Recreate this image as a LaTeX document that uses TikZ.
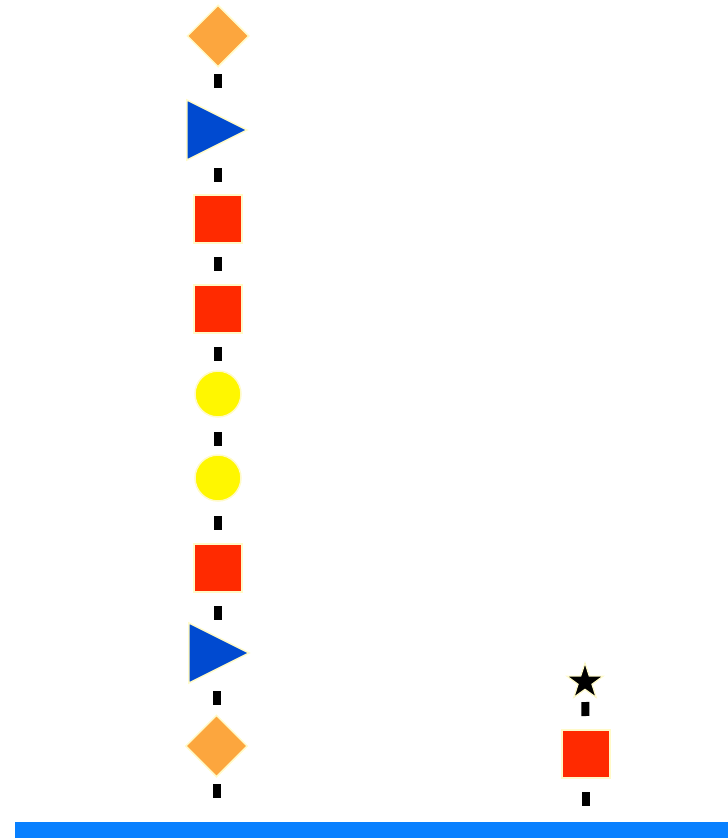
\documentclass[tikz,border=0pt]{standalone}
\usepackage{tikz}
\usetikzlibrary{shapes.geometric,backgrounds}
\definecolor{hexorange}{RGB}{252,166,62}
\definecolor{hexblue}{RGB}{0,74,208}
\definecolor{hexred}{RGB}{255,42,0}
\definecolor{hexyellow}{RGB}{255,247,0}
\definecolor{rimcream}{RGB}{255,250,200}
\definecolor{rootblue}{RGB}{8,128,255}
\tikzset{residue/.style={draw=rimcream,line width=1.5pt,inner sep=0pt},
 sqres/.style={residue,rectangle,fill=hexred,minimum size=48pt},
 dmres/.style={residue,diamond,fill=hexorange,minimum size=62pt},
 trres/.style={residue,isosceles triangle,isosceles triangle stretches,
  fill=hexblue,minimum width=60pt,minimum height=60pt},
 ccres/.style={residue,circle,fill=hexyellow,minimum size=46pt},
 stres/.style={residue,star,star points=5,star point ratio=2.6,fill=black,
  line width=1.2pt,minimum size=38pt},
 link/.style={line width=8pt,dash pattern=on 14pt off 200pt,dash phase=176pt}}

\begin{document}
\begin{tikzpicture}[x=1pt,y=-1pt]
\useasboundingbox (0,0) rectangle (728,838);
\node[fill=rootblue,minimum width=713pt,minimum height=16pt,inner sep=0pt]
 (root) at (371.5,830) {};
% left branch
\node[dmres] (dmA) at (218,36) {};
\node[trres] (trA) at (205.5,130) {};
\node[sqres] (sqA) at (218,219) {};
\node[sqres] (sqB) at (218,309) {};
\node[ccres] (ccA) at (218,394) {};
\node[ccres] (ccB) at (218,478) {};
\node[sqres] (sqC) at (218,568) {};
\node[trres] (trB) at (207.5,653) {};
\node[dmres] (dmB) at (216.5,746) {};
% right branch
\node[stres] (stA) at (585,682) {};
\node[sqres] (sqD) at (586,754) {};
\begin{scope}[on background layer]
\draw[link] (dmA.center) -- (dmA |- trA.apex);
\draw[link] (sqA |- trA.apex) -- (sqA.center);
\draw[link] (sqA.center) -- (sqB.center);
\draw[link] (sqB.center) -- (ccA.center);
\draw[link] (ccA.center) -- (ccB.center);
\draw[link] (ccB.center) -- (sqC.center);
\draw[link] (sqC.center) -- (sqC |- trB.apex);
\draw[link] (dmB |- trB.apex) -- (dmB.center);
\draw[link] (dmB.center) -- (dmB |- root.north);
\draw[link] (sqD.center) -- (stA.center);
\draw[link] (sqD.center) -- (sqD |- root.north);
\end{scope}
\end{tikzpicture}
\end{document}
